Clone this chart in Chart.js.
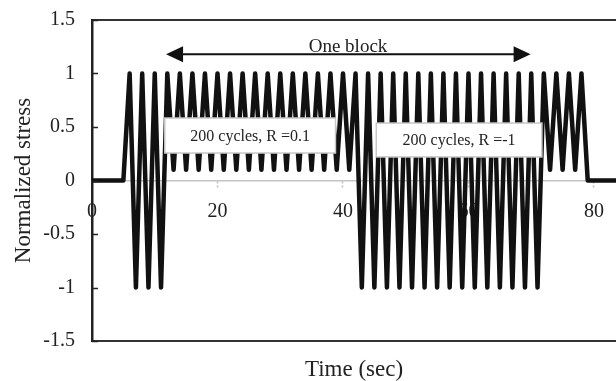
<!DOCTYPE html>
<html>
<head>
<meta charset="utf-8">
<script src="https://cdn.jsdelivr.net/npm/chart.js@4.4.0/dist/chart.umd.min.js"></script>
<style>
html,body{margin:0;padding:0;background:#fff;}
canvas{display:block;}
</style>
</head>
<body>
<canvas id="c" width="616" height="381"></canvas>
<script>
// ---- data ----
const timeSec = [0, 5, 6, 7, 8, 9, 10, 11, 12,
  13, 14, 15, 16, 17, 18, 19, 20, 21, 22, 23, 24, 25, 26, 27, 28, 29, 30, 31, 32, 33, 34, 35, 36, 37, 38, 39, 40, 41,
  42,
  43, 44, 45, 46, 47, 48, 49, 50, 51, 52, 53, 54, 55, 56, 57, 58, 59, 60, 61, 62, 63, 64, 65, 66, 67, 68, 69, 70, 71,
  72,
  73, 74, 75, 76, 77, 78,
  79, 83.5];
const normalizedStress = [0, 0, 1, -1, 1, -1, 1, -1, 1,
  0.1, 1, 0.1, 1, 0.1, 1, 0.1, 1, 0.1, 1, 0.1, 1, 0.1, 1, 0.1, 1, 0.1, 1, 0.1, 1, 0.1, 1, 0.1, 1, 0.1, 1, 0.1, 1, 0.1,
  1,
  -1, 1, -1, 1, -1, 1, -1, 1, -1, 1, -1, 1, -1, 1, -1, 1, -1, 1, -1, 1, -1, 1, -1, 1, -1, 1, -1, 1, -1,
  1,
  0.1, 1, 0.1, 1, 0.1, 1,
  0, 0];
const xTickValues = [0, 20, 40, 60, 80];
const yTickValues = [-1.5, -1, -0.5, 0, 0.5, 1, 1.5];
const xAxisTitle = 'Time (sec)';
const yAxisTitle = 'Normalized stress';
const blockLabel = 'One block';
const segmentLabels = ['200 cycles, R =0.1', '200 cycles, R =-1'];

const SERIF = "'Liberation Serif', 'Times New Roman', serif";
Chart.defaults.font.family = SERIF;
Chart.defaults.color = '#222';

const points = timeSec.map((t, i) => ({x: t, y: normalizedStress[i]}));

const notesPlugin = {
  id: 'notes',
  afterDatasetsDraw(chart) {
    const {ctx, chartArea, scales: {x, y}} = chart;
    ctx.save();
    // inward tick marks on the left axis
    ctx.strokeStyle = '#222';
    ctx.lineWidth = 1.5;
    yTickValues.forEach(v => {
      const py = Math.round(y.getPixelForValue(v)) + 0.5;
      ctx.beginPath();
      ctx.moveTo(chartArea.left, py);
      ctx.lineTo(chartArea.left + 6, py);
      ctx.stroke();
    });

    // double-headed arrow "One block"
    const ay = y.getPixelForValue(1.18);
    const ax1 = x.getPixelForValue(11.8);
    const ax2 = x.getPixelForValue(69.9);
    const hl = 17, hw = 8;
    ctx.strokeStyle = '#111';
    ctx.fillStyle = '#111';
    ctx.lineWidth = 2;
    ctx.beginPath();
    ctx.moveTo(ax1 + hl - 2, ay);
    ctx.lineTo(ax2 - hl + 2, ay);
    ctx.stroke();
    ctx.beginPath();
    ctx.moveTo(ax1, ay);
    ctx.lineTo(ax1 + hl, ay - hw);
    ctx.lineTo(ax1 + hl, ay + hw);
    ctx.closePath();
    ctx.fill();
    ctx.beginPath();
    ctx.moveTo(ax2, ay);
    ctx.lineTo(ax2 - hl, ay - hw);
    ctx.lineTo(ax2 - hl, ay + hw);
    ctx.closePath();
    ctx.fill();
    ctx.font = '19px ' + SERIF;
    ctx.fillStyle = '#222';
    ctx.textAlign = 'center';
    ctx.textBaseline = 'alphabetic';
    ctx.fillText(blockLabel, x.getPixelForValue(40.8), ay - 2);

    // text boxes
    const boxes = [
      {x0: 11.6, x1: 38.8, y0: 0.584, y1: 0.257, text: segmentLabels[0]},
      {x0: 45.3, x1: 71.7, y0: 0.537, y1: 0.22, text: segmentLabels[1]}
    ];
    ctx.font = '16px ' + SERIF;
    ctx.textBaseline = 'middle';
    boxes.forEach(b => {
      const px0 = x.getPixelForValue(b.x0), px1 = x.getPixelForValue(b.x1);
      const py0 = y.getPixelForValue(b.y0), py1 = y.getPixelForValue(b.y1);
      ctx.fillStyle = '#fff';
      ctx.fillRect(px0, py0, px1 - px0, py1 - py0);
      ctx.strokeStyle = '#c8c8c8';
      ctx.lineWidth = 1.5;
      ctx.strokeRect(px0, py0, px1 - px0, py1 - py0);
      ctx.fillStyle = '#222';
      ctx.fillText(b.text, (px0 + px1) / 2, (py0 + py1) / 2 + 1);
    });
    ctx.restore();
  }
};

new Chart(document.getElementById('c'), {
  type: 'line',
  data: {
    datasets: [{
      data: points,
      borderColor: '#111',
      borderWidth: 4.5,
      borderJoinStyle: 'round',
      borderCapStyle: 'round',
      pointRadius: 0,
      tension: 0,
      fill: false
    }]
  },
  options: {
    responsive: false,
    animation: false,
    devicePixelRatio: 1,
    layout: {padding: 0},
    plugins: {legend: {display: false}, tooltip: {enabled: false}},
    scales: {
      x: {
        type: 'linear',
        position: {y: 0},
        min: 0,
        max: 83.5,
        afterBuildTicks: s => { s.ticks = xTickValues.map(v => ({value: v})); },
        ticks: {
          font: {size: 20},
          color: '#222',
          padding: 12,
          maxRotation: 0,
          autoSkip: false,
          callback: v => String(v)
        },
        grid: {
          display: true,
          drawOnChartArea: false,
          drawTicks: true,
          tickLength: 7,
          tickColor: '#bdbdbd',
          tickWidth: 1.5,
          tickBorderDash: [2, 2]
        },
        border: {display: true, color: '#c4c4c4', width: 1.5, dash: [3, 3]}
      },
      xTop: {
        axis: 'x',
        type: 'linear',
        position: 'top',
        min: 0,
        max: 83.5,
        ticks: {display: false},
        grid: {drawOnChartArea: false, drawTicks: false},
        border: {display: true, color: '#333', width: 2},
        afterFit: s => { s.height = 20; }
      },
      xBottom: {
        axis: 'x',
        type: 'linear',
        position: 'bottom',
        min: 0,
        max: 83.5,
        ticks: {display: false},
        grid: {drawOnChartArea: false, drawTicks: false},
        border: {display: true, color: '#333', width: 2},
        title: {display: true, text: xAxisTitle, font: {size: 23, lineHeight: 1}, color: '#222', padding: {top: 0, bottom: 0}},
        afterFit: s => { s.height = 40; }
      },
      y: {
        type: 'linear',
        position: 'left',
        min: -1.5,
        max: 1.5,
        afterBuildTicks: s => { s.ticks = yTickValues.map(v => ({value: v})); },
        ticks: {font: {size: 20}, color: '#222', padding: 17, callback: v => String(v)},
        grid: {drawOnChartArea: false, drawTicks: false},
        border: {display: true, color: '#222', width: 2.5},
        title: {display: true, text: yAxisTitle, font: {size: 23}, color: '#222', padding: {top: 10, bottom: 0}},
        afterFit: s => { s.width = 92; s.paddingTop = 0; s.paddingBottom = 0; }
      }
    }
  },
  plugins: [notesPlugin]
});
</script>
</body>
</html>
